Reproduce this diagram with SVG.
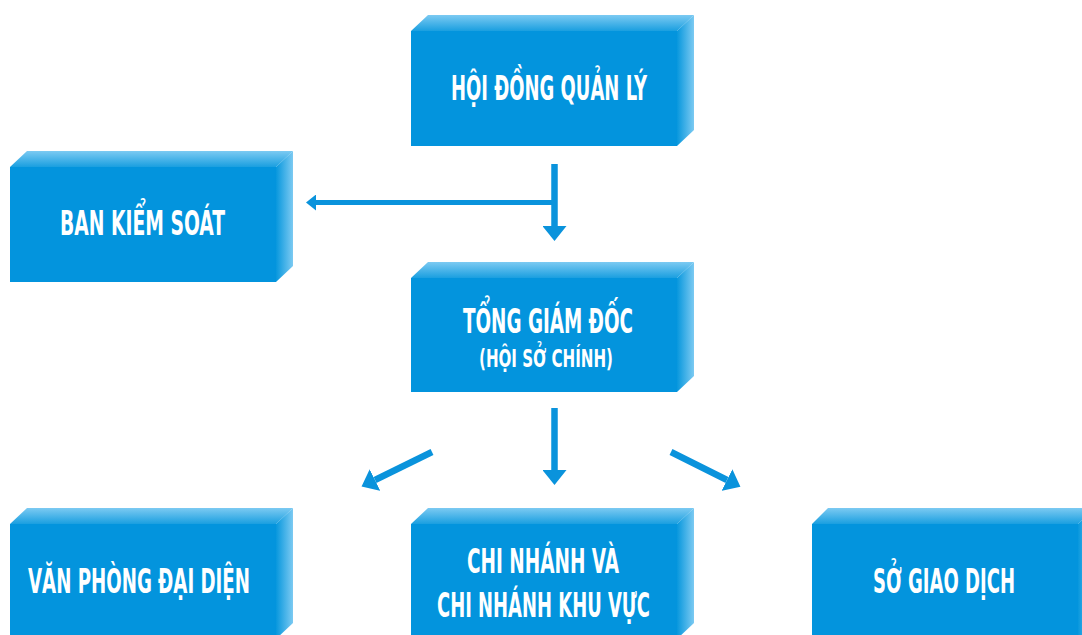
<svg xmlns="http://www.w3.org/2000/svg" width="1082" height="635" viewBox="0 0 1082 635">
  <defs>
    <linearGradient id="gTop" x1="0" y1="0" x2="0" y2="1">
      <stop offset="0" stop-color="#7ccaf2"/>
      <stop offset="1" stop-color="#1a9fe0"/>
    </linearGradient>
    <linearGradient id="gRight" x1="0" y1="0" x2="1" y2="0">
      <stop offset="0" stop-color="#0797dd"/>
      <stop offset="1" stop-color="#7ccaf2"/>
    </linearGradient>
    <marker id="headBig" markerUnits="userSpaceOnUse" markerWidth="16" markerHeight="24" refX="0" refY="12" orient="auto" viewBox="0 0 16 24">
      <path d="M0,0 L15,12 L0,24 Z" fill="#0a93dc"/>
    </marker>
    <marker id="headSmall" markerUnits="userSpaceOnUse" markerWidth="11" markerHeight="16" refX="0" refY="8" orient="auto" viewBox="0 0 11 16">
      <path d="M0,0 L10,8 L0,16 Z" fill="#0a93dc"/>
    </marker>
  </defs>
  <style>
    .front { fill: #0394dd; }
    .top { fill: url(#gTop); }
    .right { fill: url(#gRight); }
    .lbl { font-family: "Liberation Sans Narrow", "DejaVu Sans Condensed", "Liberation Sans", sans-serif; font-weight: bold; font-size: 34px; fill: #ffffff; text-anchor: middle; }
    .sub { font-size: 24px; }
    .conn { stroke: #0a93dc; fill: none; stroke-linecap: butt; }
  </style>
  <rect width="1082" height="635" fill="#ffffff"/>

  <g id="node-hdql">
    <polygon class="top" points="411,31 428,15 694,15 677,31"/>
    <polygon class="right" points="677,31 694,15 694,130 677,146"/>
    <rect class="front" x="411" y="31" width="266" height="115"/>
    <text class="lbl" x="549" y="100" textLength="196" lengthAdjust="spacingAndGlyphs">HỘI ĐỒNG QUẢN LÝ</text>
  </g>

  <g id="node-bks">
    <polygon class="top" points="10,167 27,151 293,151 276,167"/>
    <polygon class="right" points="276,167 293,151 293,266 276,282"/>
    <rect class="front" x="10" y="167" width="266" height="115"/>
    <text class="lbl" x="142.5" y="235" textLength="165" lengthAdjust="spacingAndGlyphs">BAN KIỂM SOÁT</text>
  </g>

  <g id="node-tgd">
    <polygon class="top" points="411,278 428,262 694,262 677,278"/>
    <polygon class="right" points="677,278 694,262 694,376 677,392"/>
    <rect class="front" x="411" y="278" width="266" height="114"/>
    <text class="lbl" x="548" y="333" textLength="170" lengthAdjust="spacingAndGlyphs">TỔNG GIÁM ĐỐC</text>
    <text class="lbl sub" x="546" y="367" textLength="134" lengthAdjust="spacingAndGlyphs">(HỘI SỞ CHÍNH)</text>
  </g>

  <g id="node-vpdd">
    <polygon class="top" points="10,524 27,508 293,508 276,524"/>
    <polygon class="right" points="276,524 293,508 293,623 276,639"/>
    <rect class="front" x="10" y="524" width="266" height="115"/>
    <text class="lbl" x="139" y="593" textLength="222" lengthAdjust="spacingAndGlyphs">VĂN PHÒNG ĐẠI DIỆN</text>
  </g>

  <g id="node-cn">
    <polygon class="top" points="411,524 428,508 694,508 677,524"/>
    <polygon class="right" points="677,524 694,508 694,623 677,639"/>
    <rect class="front" x="411" y="524" width="266" height="115"/>
    <text class="lbl" x="543" y="573" textLength="152" lengthAdjust="spacingAndGlyphs">CHI NHÁNH VÀ</text>
    <text class="lbl" x="543.5" y="617" textLength="213" lengthAdjust="spacingAndGlyphs">CHI NHÁNH KHU VỰC</text>
  </g>

  <g id="node-sgd">
    <polygon class="top" points="812,524 828,508 1095,508 1078,524"/>
    <polygon class="right" points="1078,524 1095,508 1095,623 1078,639"/>
    <rect class="front" x="812" y="524" width="266" height="115"/>
    <text class="lbl" x="944" y="593" textLength="142" lengthAdjust="spacingAndGlyphs">SỞ GIAO DỊCH</text>
  </g>

  <g id="connectors">
    <line class="conn" x1="554.5" y1="164" x2="554.5" y2="226" stroke-width="6.5" marker-end="url(#headBig)"/>
    <line class="conn" x1="555" y1="202.5" x2="316" y2="202.5" stroke-width="5" marker-end="url(#headSmall)"/>
    <line class="conn" x1="554.5" y1="408" x2="554.5" y2="470" stroke-width="6.5" marker-end="url(#headBig)"/>
    <line class="conn" x1="432" y1="452" x2="375" y2="480" stroke-width="6.5" marker-end="url(#headBig)"/>
    <line class="conn" x1="671" y1="452" x2="727" y2="480" stroke-width="6.5" marker-end="url(#headBig)"/>
  </g>
</svg>
